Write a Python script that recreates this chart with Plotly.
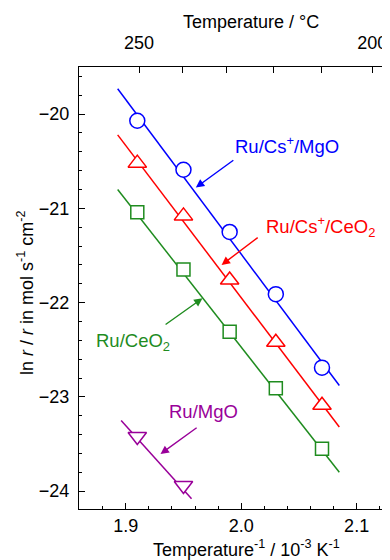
import plotly.graph_objects as go

# ---------------- data ----------------
inv_temp = [1.91, 1.95, 1.99, 2.03, 2.07]          # 10^-3 K^-1
ru_cs_mgo = [-20.07, -20.59, -21.25, -21.91, -22.69]
ru_cs_ceo2 = [-20.52, -21.08, -21.76, -22.42, -23.09]
ru_ceo2 = [-21.04, -21.65, -22.31, -22.91, -23.55]
inv_temp_mgo = [1.91, 1.95]
ru_mgo = [-23.42, -23.94]

# fitted straight lines (end points)
fit_x = [1.893, 2.085]
fit_cs_mgo = [-19.73, -22.88]
fit_cs_ceo2 = [-20.22, -23.32]
fit_ceo2 = [-20.80, -23.80]
fit_x_mgo = [1.896, 1.957]
fit_mgo = [-23.25, -24.08]

# top axis: temperature in deg C
top_temps_c = [250, 240, 230, 220, 210, 200]
top_labels = ["250", "", "", "", "", "200"]
top_tickvals = [1000.0 / (t + 273.15) for t in top_temps_c]

BLUE = "#0000ff"
RED = "#ff0000"
GREEN = "#1f8c1f"
PURPLE = "#990099"
FONT = "Liberation Sans, Arial, sans-serif"

fig = go.Figure()

series = [
    (fit_x, fit_cs_mgo, inv_temp, ru_cs_mgo, BLUE, "circle", 15),
    (fit_x, fit_cs_ceo2, inv_temp, ru_cs_ceo2, RED, "triangle-up", 16),
    (fit_x, fit_ceo2, inv_temp, ru_ceo2, GREEN, "square", 13),
    (fit_x_mgo, fit_mgo, inv_temp_mgo, ru_mgo, PURPLE, "triangle-down", 16),
]
for fx, fy, px, py, col, sym, sz in series:
    fig.add_trace(go.Scatter(x=fx, y=fy, mode="lines",
                             line=dict(color=col, width=1.5),
                             showlegend=False, hoverinfo="skip"))
    fig.add_trace(go.Scatter(x=px, y=py, mode="markers",
                             marker=dict(symbol=sym, size=sz, color="white",
                                         line=dict(color=col, width=1.5)),
                             showlegend=False))

# dummy trace for top axis
fig.add_trace(go.Scatter(x=[top_tickvals[0]], y=[-22], xaxis="x2", mode="markers",
                         marker=dict(opacity=0), showlegend=False, hoverinfo="skip"))

xr = [1.8595, 2.1289]
yr = [-24.19, -19.50]

# labels and arrows
labels = [
    ("Ru/Cs<sup>+</sup>/MgO", 2.0394, -20.326, BLUE, (1.9945, -20.478), (1.9607, -20.779)),
    ("Ru/Cs<sup>+</sup>/CeO<sub>2</sub>", 2.0683, -21.193, RED, (2.0156, -21.299), (1.9830, -21.600)),
    ("Ru/CeO<sub>2</sub>", 1.9063, -22.414, GREEN, (1.9332, -22.244), (1.9665, -21.953)),
    ("Ru/MgO", 1.9670, -23.157, PURPLE, (1.9627, -23.316), (1.9301, -23.606)),
]
for txt, tx, ty, col, tail, head in labels:
    fig.add_annotation(x=tx, y=ty, text=txt, showarrow=False,
                       font=dict(color=col, size=18.5, family=FONT))
    fig.add_annotation(x=head[0], y=head[1], ax=tail[0], ay=tail[1],
                       xref="x", yref="y", axref="x", ayref="y", text="",
                       showarrow=True, arrowhead=2, arrowsize=1.2, arrowwidth=1.4,
                       arrowcolor=col)

# plot area geometry (page pixels): left 79, right 390, top 67, bottom 509
PW, PH = 311, 442
fig.add_annotation(xref="paper", yref="paper", x=(246.7 - 79) / PW, y=-(548 - 509) / PH,
                   text="Temperature<sup>-1</sup> / 10<sup>-3</sup> K<sup>-1</sup>",
                   showarrow=False, font=dict(size=18, family=FONT, color="black"),
                   yanchor="middle", xanchor="center")
fig.add_annotation(xref="paper", yref="paper", x=(251 - 79) / PW, y=1 + (67 - 22) / PH,
                   text="Temperature / °C",
                   showarrow=False, font=dict(size=18, family=FONT, color="black"),
                   yanchor="middle", xanchor="center")
fig.add_annotation(xref="paper", yref="paper", x=-(79 - 25) / PW, y=(509 - 293) / PH,
                   text="ln <i>r</i> / <i>r</i> in mol s<sup>-1</sup> cm<sup>-2</sup>",
                   textangle=-90, showarrow=False,
                   font=dict(size=18, family=FONT, color="black"),
                   yanchor="middle", xanchor="center")

axis_common = dict(showline=True, linecolor="black", linewidth=1.3, ticks="inside",
                   ticklen=6, tickwidth=1.2, tickcolor="black", showgrid=False,
                   zeroline=False, tickfont=dict(size=18, family=FONT, color="black"))

fig.update_layout(
    width=390, height=560,
    margin=dict(l=71, r=8, t=59, b=59),
    plot_bgcolor="white", paper_bgcolor="white",
    xaxis=dict(range=xr, tickvals=[1.9, 2.0, 2.1], ticktext=["1.9", "2.0", "2.1"],
               minor=dict(dtick=0.02, tick0=1.9, ticks="inside", ticklen=3,
                          tickcolor="black", tickwidth=1.0),
               **axis_common),
    xaxis2=dict(range=xr, overlaying="x", side="top", tickvals=top_tickvals,
                ticktext=top_labels, ticklabelstandoff=10, **axis_common),
    yaxis=dict(range=yr, dtick=1, tick0=-20, ticklabelstandoff=5,
               minor=dict(dtick=0.2, tick0=-20, ticks="inside", ticklen=3,
                          tickcolor="black", tickwidth=1.0),
               **axis_common),
    font=dict(family=FONT, color="black"),
)

fig.write_html("out.html")
